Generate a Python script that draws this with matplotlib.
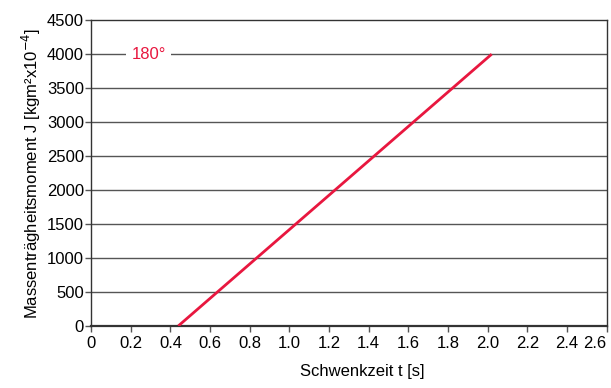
import matplotlib
matplotlib.use("Agg")
import matplotlib.pyplot as plt
import numpy as np

# data
t_vals = [0.44, 2.02]
j_vals = [0, 4000]
x_ticks = [0, 0.2, 0.4, 0.6, 0.8, 1.0, 1.2, 1.4, 1.6, 1.8, 2.0, 2.2, 2.4, 2.6]
x_labels = ["0", "0.2", "0.4", "0.6", "0.8", "1.0", "1.2", "1.4", "1.6", "1.8", "2.0", "2.2", "2.4", "2.6"]
y_ticks = [0, 500, 1000, 1500, 2000, 2500, 3000, 3500, 4000, 4500]
curve_label = "180°"

red = "#e8173f"
plt.rcParams['font.family'] = ['Liberation Sans', 'DejaVu Sans']
plt.rcParams['font.size'] = 12

fig = plt.figure(figsize=(6.11, 3.88), dpi=100)
ax = fig.add_axes([0.149, 0.160, 0.844, 0.788])

for y in y_ticks[1:-1]:
    ax.axhline(y, color="#555555", lw=1.0, zorder=1)

ax.plot(t_vals, j_vals, color=red, lw=2, zorder=3, solid_capstyle="butt")
ax.text(0.29, 4000, curve_label, color=red, ha="center", va="center",
        bbox=dict(facecolor="white", edgecolor="none", pad=4), zorder=4)

ax.set_xlim(0, 2.6)
ax.set_ylim(0, 4500)
ax.set_xticks(x_ticks)
ax.set_xticklabels(x_labels)
ax.set_yticks(y_ticks)
ax.tick_params(axis="both", direction="out", length=4, width=1, color="#555555", pad=1)
ax.tick_params(axis="x", pad=3)
# last x label sits left of its tick so it stays inside the picture
ax.get_xticklabels()[-1].set_horizontalalignment("right")
ax.get_xticklabels()[-1].set_x(2.615)

for s in ax.spines.values():
    s.set_color("#333333")
    s.set_linewidth(1.0)
ax.spines["bottom"].set_linewidth(1.6)

ax.set_xlabel("Schwenkzeit t [s]")
ax.xaxis.set_label_coords(0.525, -0.125)
ax.set_ylabel("Massenträgheitsmoment J [kgm²x10$^{-4}$]", labelpad=3)

fig.savefig("out.png", dpi=100)
